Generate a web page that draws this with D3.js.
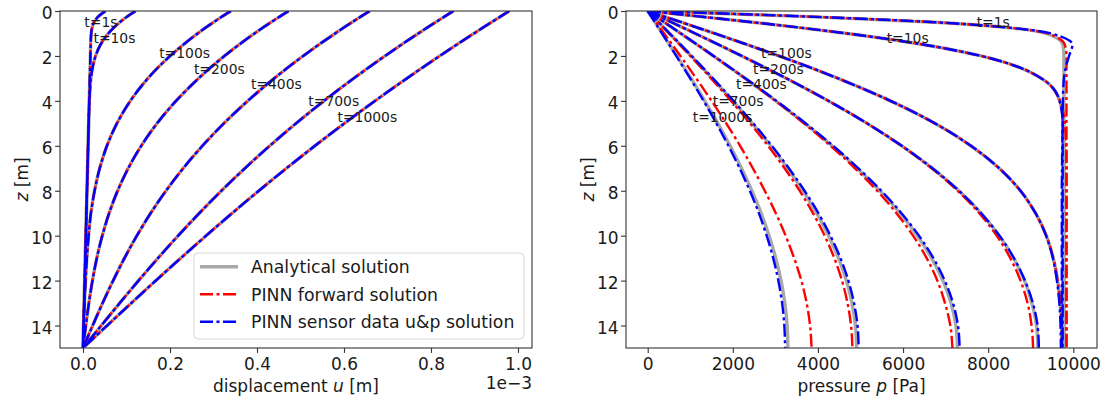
<!DOCTYPE html>
<html>
<head>
<meta charset="utf-8">
<script src="https://cdn.jsdelivr.net/npm/d3@7"></script>
<style>
  body { margin: 0; background: #fff; }
  svg text { font-family: "DejaVu Sans", sans-serif; fill: #1a1a1a; }
</style>
</head>
<body>
<div id="chart"></div>
<script>
// Depth samples (m) shared by every profile, top of the layer first.
const zGrid = [0, 0.25, 0.5, 0.75, 1, 1.5, 2, 2.5, 3, 4, 5, 6, 7, 8, 9, 10, 11, 12, 13, 14, 15];
const times = [1, 10, 100, 200, 400, 700, 1000];

// Displacement u (x 1e-3 m), one row per time.
const uExact = [
    [0.0515, 0.0349, 0.0254, 0.0208, 0.0188, 0.0176, 0.0169, 0.0163, 0.0156, 0.0143, 0.0130, 0.0117, 0.0104, 0.0091, 0.0078, 0.0065, 0.0052, 0.0039, 0.0026, 0.0013, 0],
    [0.1208, 0.1014, 0.0846, 0.0702, 0.0582, 0.0402, 0.0289, 0.0221, 0.0182, 0.0147, 0.0130, 0.0117, 0.0104, 0.0091, 0.0078, 0.0065, 0.0052, 0.0039, 0.0026, 0.0013, 0],
    [0.3398, 0.3195, 0.3001, 0.2814, 0.2636, 0.2304, 0.2003, 0.1732, 0.1491, 0.1088, 0.0780, 0.0550, 0.0384, 0.0266, 0.0181, 0.0128, 0.0088, 0.0058, 0.0034, 0.0016, 0],
    [0.4725, 0.4521, 0.4322, 0.4130, 0.3943, 0.3587, 0.3254, 0.2943, 0.2654, 0.2139, 0.1703, 0.1339, 0.1040, 0.0796, 0.0600, 0.0443, 0.0317, 0.0217, 0.0135, 0.0065, 0],
    [0.6591, 0.6385, 0.6185, 0.5988, 0.5795, 0.5421, 0.5063, 0.4721, 0.4395, 0.3788, 0.3239, 0.2746, 0.2304, 0.1909, 0.1555, 0.1239, 0.0953, 0.0693, 0.0451, 0.0222, 0],
    [0.8515, 0.8309, 0.8106, 0.7906, 0.7708, 0.7321, 0.6944, 0.6578, 0.6222, 0.5540, 0.4898, 0.4293, 0.3722, 0.3183, 0.2673, 0.2188, 0.1724, 0.1277, 0.0844, 0.0420, 0],
    [0.9800, 0.9594, 0.9390, 0.9187, 0.8986, 0.8590, 0.8201, 0.7819, 0.7444, 0.6714, 0.6011, 0.5332, 0.4677, 0.4043, 0.3428, 0.2830, 0.2246, 0.1674, 0.1111, 0.0554, 0]
];
// Both PINN runs sit on top of the analytical displacement in the picture.
const uForward = uExact;
const uSensor = uExact;

// Pore pressure p (Pa), one row per time.
const pExact = [
    [0, 3797, 6748, 8530, 9366, 9757, 9780, 9780, 9780, 9780, 9780, 9780, 9780, 9780, 9780, 9780, 9780, 9780, 9780, 9780, 9780],
    [0, 1247, 2463, 3617, 4686, 6498, 7832, 8719, 9251, 9679, 9767, 9779, 9780, 9780, 9780, 9780, 9780, 9780, 9780, 9780, 9780],
    [0, 396, 791, 1183, 1573, 2340, 3083, 3797, 4474, 5703, 6748, 7594, 8259, 8758, 9113, 9366, 9530, 9632, 9693, 9725, 9734],
    [0, 280, 560, 839, 1117, 1667, 2210, 2741, 3260, 4246, 5152, 5970, 6690, 7312, 7834, 8261, 8598, 8853, 9027, 9135, 9168],
    [0, 194, 388, 582, 775, 1160, 1541, 1918, 2288, 3008, 3692, 4332, 4922, 5456, 5928, 6335, 6672, 6936, 7127, 7242, 7280],
    [0, 129, 257, 385, 513, 768, 1021, 1271, 1518, 1997, 2455, 2886, 3285, 3648, 3971, 4251, 4484, 4668, 4800, 4881, 4908],
    [0, 86, 172, 258, 344, 515, 685, 852, 1018, 1340, 1647, 1936, 2204, 2448, 2665, 2852, 3009, 3132, 3222, 3276, 3294]
];
const pForward = [
    [0, 3797, 6748, 8530, 9400, 9800, 9840, 9840, 9840, 9840, 9840, 9840, 9840, 9840, 9840, 9840, 9840, 9840, 9840, 9840, 9840],
    [0, 1247, 2463, 3617, 4686, 6498, 7832, 8719, 9251, 9690, 9800, 9830, 9840, 9840, 9840, 9840, 9840, 9840, 9840, 9840, 9840],
    [0, 396, 791, 1183, 1573, 2340, 3083, 3797, 4474, 5703, 6748, 7594, 8259, 8758, 9113, 9366, 9530, 9632, 9693, 9725, 9734],
    [0, 280, 560, 839, 1117, 1667, 2210, 2741, 3260, 4246, 5152, 5960, 6670, 7280, 7790, 8200, 8520, 8760, 8925, 9020, 9055],
    [0, 194, 388, 582, 775, 1160, 1541, 1918, 2288, 3000, 3670, 4295, 4870, 5390, 5845, 6235, 6555, 6805, 6985, 7110, 7160],
    [0, 127, 252, 377, 502, 752, 1000, 1245, 1487, 1957, 2405, 2827, 3216, 3570, 3884, 4157, 4385, 4565, 4695, 4778, 4810],
    [0, 97, 194, 290, 386, 578, 768, 955, 1140, 1500, 1845, 2170, 2470, 2750, 3010, 3240, 3440, 3610, 3735, 3815, 3850]
];
const pSensor = [
    [0, 3797, 6748, 8530, 9480, 9980, 9900, 9825, 9780, 9755, 9750, 9750, 9750, 9750, 9750, 9750, 9750, 9750, 9750, 9750, 9750],
    [0, 1247, 2463, 3617, 4686, 6498, 7832, 8719, 9251, 9679, 9750, 9740, 9735, 9730, 9730, 9730, 9730, 9730, 9730, 9730, 9730],
    [0, 396, 791, 1183, 1573, 2340, 3083, 3797, 4474, 5703, 6748, 7594, 8259, 8758, 9113, 9360, 9520, 9615, 9672, 9700, 9708],
    [0, 280, 560, 839, 1117, 1667, 2210, 2741, 3260, 4246, 5152, 5970, 6690, 7312, 7834, 8265, 8605, 8865, 9050, 9160, 9192],
    [0, 195, 390, 585, 779, 1166, 1549, 1928, 2300, 3024, 3712, 4356, 4950, 5488, 5963, 6373, 6713, 6980, 7173, 7290, 7330],
    [0, 130, 260, 389, 518, 776, 1031, 1284, 1533, 2017, 2480, 2915, 3318, 3684, 4010, 4293, 4529, 4715, 4848, 4930, 4957],
    [0, 84, 169, 253, 337, 505, 671, 835, 998, 1313, 1614, 1897, 2160, 2399, 2612, 2795, 2949, 3069, 3158, 3210, 3228]
];

// Where the "t=..s" annotations sit, in data units (left edge, baseline).
const labelZ = [0.70, 1.44, 2.10, 2.80, 3.49, 4.23, 4.93];
const labelU = [0.003, 0.024, 0.175, 0.255, 0.386, 0.518, 0.585];
const labelP = [7730, 5615, 2662, 2474, 2075, 1527, 1057];

const uTicks = [0, 0.2, 0.4, 0.6, 0.8, 1.0];
const pTicks = [0, 2000, 4000, 6000, 8000, 10000];
const zTicks = [0, 2, 4, 6, 8, 10, 12, 14];

let series = [
    {name: 'Analytical solution', u: uExact, p: pExact, color: '#a8a8a8', width: 3.4, dash: null, offset: 0},
    {name: 'PINN forward solution', u: uForward, p: pForward, color: '#ff0000', width: 2.4, dash: '13,3.5,3,3.5', offset: 2},
    {name: 'PINN sensor data u&p solution', u: uSensor, p: pSensor, color: '#0000ff', width: 2.4, dash: '13,3.5,3,3.5', offset: 0}
];

let svg = d3.select('#chart').append('svg')
    .attr('width', 1104)
    .attr('height', 404);

let yZ = d3.scaleLinear().domain([0, 15]).range([11, 348]);
let xU = d3.scaleLinear().domain([-0.0529, 1.0322]).range([60, 532]);
let xP = d3.scaleLinear().domain([-510, 10557]).range([626, 1097]);

drawPanel(xU, 'u', uTicks, d3.format('.1f'), labelU, ['displacement ', 'u', ' [m]']);
drawPanel(xP, 'p', pTicks, d3.format('d'), labelP, ['pressure ', 'p', ' [Pa]']);
drawLegend();

// Offset text for the scaled displacement axis.
svg.append('text')
    .attr('x', 532)
    .attr('y', 389)
    .attr('text-anchor', 'end')
    .attr('font-size', 17)
    .text('1e\u22123');

/**
 * Draws one panel: profiles for every series and time, labels, axes and frame.
 *
 * @param x        x scale of the panel
 * @param key      'u' or 'p', which values of each series to use
 * @param ticks    x tick values
 * @param fmt      x tick format
 * @param labelX   x positions of the time annotations
 * @param xTitle   x axis title parts, middle one is italic
 */
function drawPanel(x, key, ticks, fmt, labelX, xTitle) {
    let g = svg.append('g').attr('class', 'panel-' + key);
    let [x0, x1] = x.range();
    let [y0, y1] = yZ.range();

    g.append('clipPath').attr('id', 'clip-' + key)
        .append('rect')
        .attr('x', x0).attr('y', y0)
        .attr('width', x1 - x0).attr('height', y1 - y0);

    let line = d3.line()
        .x(d => x(d[0]))
        .y(d => yZ(d[1]))
        .curve(d3.curveMonotoneY);

    let curves = g.append('g').attr('clip-path', 'url(#clip-' + key + ')');
    series.forEach(function(s) {
        s[key].forEach(function(row) {
            curves.append('path')
                .datum(row.map((v, i) => [v, zGrid[i]]))
                .attr('fill', 'none')
                .attr('stroke', s.color)
                .attr('stroke-width', s.width)
                .attr('stroke-dasharray', s.dash)
                .attr('stroke-dashoffset', s.offset)
                .attr('d', line);
        });
    });

    g.selectAll('text.tlabel')
        .data(times)
        .enter()
        .append('text')
            .attr('class', 'tlabel')
            .attr('x', (d, i) => x(labelX[i]))
            .attr('y', (d, i) => yZ(labelZ[i]))
            .attr('font-size', 13.9)
            .text(d => 't=' + d + 's');

    let xAxis = g.append('g')
        .attr('transform', 'translate(0,' + y1 + ')')
        .call(d3.axisBottom(x).tickValues(ticks).tickFormat(fmt).tickSize(4.9).tickPadding(5.3));
    let yAxis = g.append('g')
        .attr('transform', 'translate(' + x0 + ',0)')
        .call(d3.axisLeft(yZ).tickValues(zTicks).tickFormat(d3.format('d')).tickSize(4.9).tickPadding(2.5));
    yAxis.selectAll('.tick text').attr('dy', '0.44em');
    [xAxis, yAxis].forEach(function(a) {
        a.select('.domain').remove();
        a.attr('font-size', 17).attr('font-family', '"DejaVu Sans", sans-serif');
        a.selectAll('.tick line').attr('stroke', '#333').attr('stroke-width', 1.1);
    });

    // Frame drawn last, so it sits above the curves like the original.
    g.append('rect')
        .attr('x', x0).attr('y', y0)
        .attr('width', x1 - x0).attr('height', y1 - y0)
        .attr('fill', 'none')
        .attr('stroke', '#333')
        .attr('stroke-width', 1.1);

    let title = g.append('text')
        .attr('x', (x0 + x1) / 2)
        .attr('y', 392)
        .attr('text-anchor', 'middle')
        .attr('font-size', 17);
    title.append('tspan').text(xTitle[0]);
    title.append('tspan').attr('font-style', 'italic').text(xTitle[1]);
    title.append('tspan').text(xTitle[2]);

    let zTitle = g.append('text')
        .attr('transform', 'translate(' + (x0 - 32) + ',' + ((y0 + y1) / 2) + ') rotate(-90)')
        .attr('text-anchor', 'middle')
        .attr('font-size', 17);
    zTitle.append('tspan').attr('font-style', 'italic').text('z');
    zTitle.append('tspan').text(' [m]');
}

/**
 * Legend in the lower right of the displacement panel.
 */
function drawLegend() {
    let lg = svg.append('g').attr('class', 'legend');
    lg.append('rect')
        .attr('x', 194).attr('y', 253)
        .attr('width', 330).attr('height', 86)
        .attr('rx', 4)
        .attr('fill', '#fff').attr('fill-opacity', 0.8)
        .attr('stroke', '#d6d6d6');

    let rows = lg.selectAll('g.row')
        .data(series)
        .enter()
        .append('g')
            .attr('class', 'row')
            .attr('transform', (d, i) => 'translate(0,' + (266.7 + i * 27.5) + ')');
    rows.append('line')
        .attr('x1', 200).attr('x2', 238)
        .attr('stroke', d => d.color)
        .attr('stroke-width', d => d.width)
        .attr('stroke-dasharray', d => d.dash);
    rows.append('text')
        .attr('x', 251)
        .attr('y', 6.4)
        .attr('font-size', 17.3)
        .text(d => d.name);
}
</script>
</body>
</html>
